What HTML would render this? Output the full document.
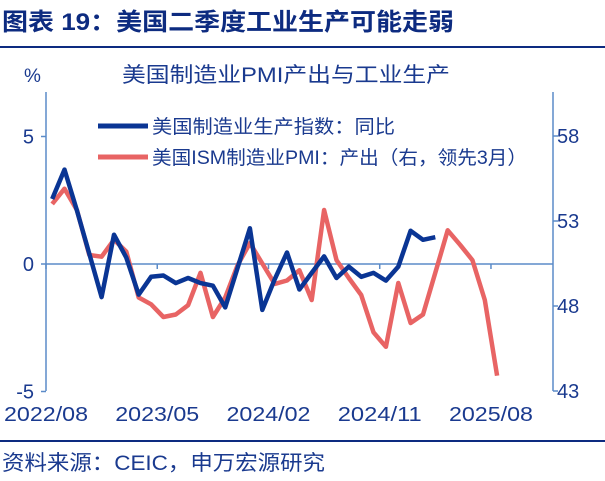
<!DOCTYPE html>
<html><head><meta charset="utf-8">
<style>
body{margin:0;background:#fff;width:605px;height:476px;overflow:hidden;font-family:"Liberation Sans","Noto Sans CJK SC",sans-serif;}
</style></head>
<body>
<svg width="605" height="476" xmlns="http://www.w3.org/2000/svg" style="font-family:'Liberation Sans','Noto Sans CJK SC',sans-serif">
<text x="2" y="30" font-size="24" font-weight="bold" fill="#0d2b80" textLength="452" lengthAdjust="spacingAndGlyphs">图表 19：美国二季度工业生产可能走弱</text>
<rect x="0" y="46" width="605" height="2" fill="#0d2b80"/>
<text x="24" y="82" font-size="19" fill="#1a3a8f">%</text>
<text x="122" y="82" font-size="21" fill="#1a3a8f" textLength="328" lengthAdjust="spacingAndGlyphs">美国制造业PMI产出与工业生产</text>
<g id="axes"></g>
<g id="series"></g>
<g>
<line x1="98" y1="126" x2="148" y2="126" stroke="#0a3594" stroke-width="5"/>
<text x="152" y="133" font-size="19" fill="#1a3a8f" textLength="243" lengthAdjust="spacingAndGlyphs">美国制造业生产指数：同比</text>
<line x1="98" y1="157" x2="148" y2="157" stroke="#e86464" stroke-width="5"/>
<text x="152" y="164" font-size="19" fill="#1a3a8f" textLength="375" lengthAdjust="spacingAndGlyphs">美国ISM制造业PMI：产出（右，领先3月）</text>
</g>
<rect x="0" y="440" width="605" height="2" fill="#0d2b80"/>
<text x="2" y="470" font-size="21" fill="#1a3a8f" textLength="323" lengthAdjust="spacingAndGlyphs">资料来源：CEIC，申万宏源研究</text>
</svg>
<script>
const xLabels=["2022/08","2023/05","2024/02","2024/11","2025/08"];
const leftTicks=[5,0,-5];
const rightTicks=[58,53,48,43];
const ipValues=[2.55,3.7,2.1,0.4,-1.3,1.15,0.25,-1.2,-0.5,-0.45,-0.75,-0.55,-0.75,-0.85,-1.7,-0.15,1.4,-1.8,-0.6,0.45,-1.0,-0.35,0.3,-0.55,-0.1,-0.5,-0.35,-0.65,-0.1,1.3,0.95,1.05];
const pmiValues=[54.0,54.9,53.65,51.0,50.9,51.9,51.2,48.5,48.1,47.35,47.5,48.05,49.95,47.35,48.5,50.4,51.7,50.5,49.3,49.5,50.1,48.35,53.65,50.7,49.65,48.65,46.45,45.6,49.35,47.0,47.5,49.95,52.45,51.6,50.7,48.35,43.9];
const NS="http://www.w3.org/2000/svg";
const X0=46,X1=553,STEP=12.36;
const xPos=i=>X0+STEP*(i+0.5);
const yL=v=>264-v*25.5;
const yR=v=>221-(v-53)*17;
const axes=document.getElementById('axes'),series=document.getElementById('series');
function mk(tag,attrs,parent){const e=document.createElementNS(NS,tag);for(const k in attrs)e.setAttribute(k,attrs[k]);parent.appendChild(e);return e;}
const ax="#5b8bc8",tc="#1a3a8f";
let e=mk('line',{x1:X0,y1:92,x2:X0,y2:391,stroke:ax,'stroke-width':1.5},axes);


e=mk('line',{x1:X1,y1:92,x2:X1,y2:391,stroke:ax,'stroke-width':1.5},axes);


e=mk('line',{x1:X0,y1:yL(0),x2:X1,y2:yL(0),stroke:ax,'stroke-width':1.5},axes);


leftTicks.forEach(v=>{
 mk('line',{x1:X0,y1:yL(v),x2:X0-5,y2:yL(v),stroke:ax,'stroke-width':1.5},axes);
 const t=mk('text',{x:X0-12,y:yL(v)+7,'font-size':20,fill:tc,'text-anchor':'end'},axes);t.textContent=v;
 
 
});
rightTicks.forEach(v=>{
 mk('line',{x1:X1,y1:yR(v),x2:X1+5,y2:yR(v),stroke:ax,'stroke-width':1.5},axes);
 const t=mk('text',{x:X1+4,y:yR(v)+7,'font-size':20,fill:tc},axes);t.textContent=v;
 
 
});
xLabels.forEach((l,k)=>{
 const x=X0+STEP*9*k;
 mk('line',{x1:x,y1:yL(0),x2:x,y2:yL(0)+5,stroke:ax,'stroke-width':1.5},axes);
 const t=mk('text',{x:x,y:421,'font-size':20,fill:tc,'text-anchor':'middle',textLength:84,lengthAdjust:'spacingAndGlyphs'},axes);t.textContent=l;
 
 
});
function path(vals,fy,color,name){
 const d=vals.map((v,i)=>(i?'L':'M')+xPos(i).toFixed(1)+','+fy(v).toFixed(1)).join('');
 const p=mk('path',{d:d,fill:'none',stroke:color,'stroke-width':4.5,'stroke-linejoin':'round'},series);
 
 
}
path(pmiValues,yR,'#e86464','pmi-output-line');
path(ipValues,yL,'#0a3594','industrial-production-line');
</script>
</body></html>
